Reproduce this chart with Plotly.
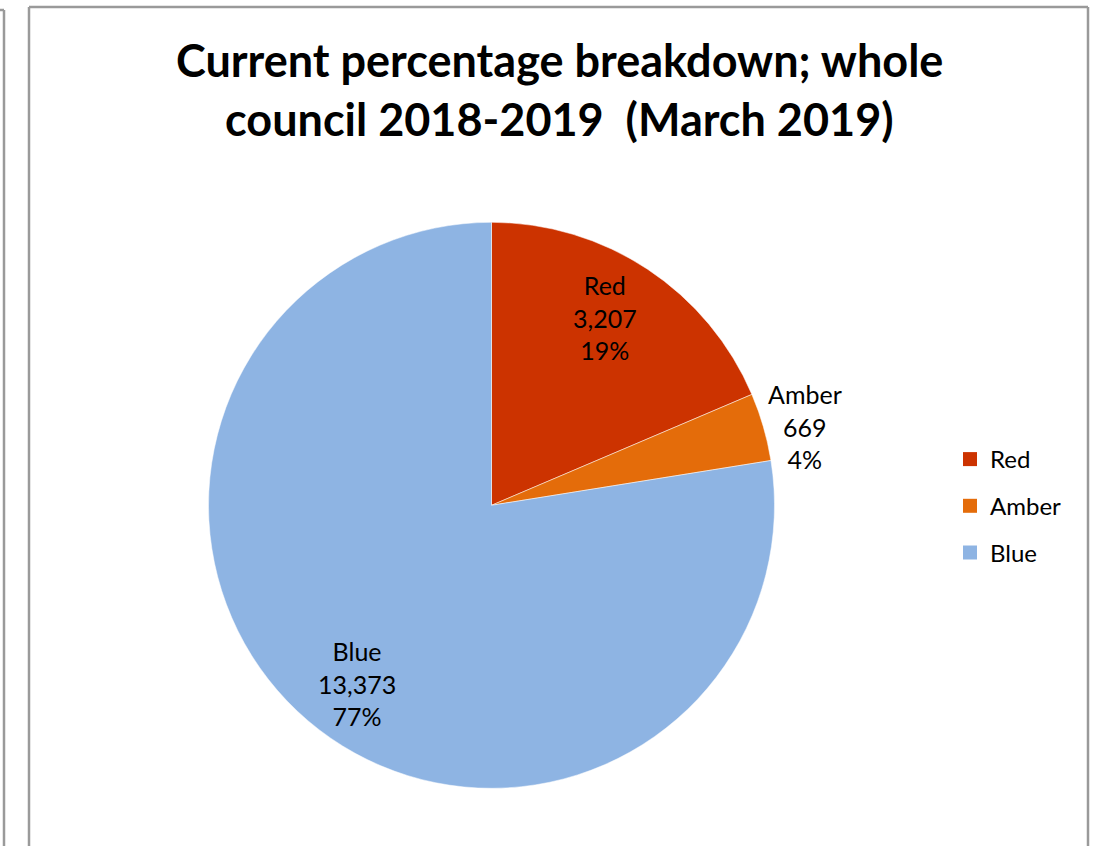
import math
import plotly.graph_objects as go

labels = ["Red", "Amber", "Blue"]
values = [3207, 669, 13373]
percent_text = ["19%", "4%", "77%"]
colors = ["#CC3300", "#E46C0A", "#8EB4E3"]

title_lines = ["Current percentage breakdown; whole", "council 2018-2019  (March 2019)"]

W, H = 1106, 846
FONT = "Lato"

# pie geometry (pixels)
cx, cy, R = 491.5, 505.3, 283.0
dom_x = [(cx - R) / W, (cx + R) / W]
dom_y = [1 - (cy + R) / H, 1 - (cy - R) / H]

fig = go.Figure()
fig.add_trace(go.Pie(
    labels=labels, values=values, sort=False, direction="clockwise", rotation=0,
    marker=dict(colors=colors, line=dict(color="white", width=0.5)),
    textinfo="none", showlegend=False, domain=dict(x=dom_x, y=dom_y),
))

# legend via dummy traces (for spacing control)
for lab, col in zip(labels, colors):
    fig.add_trace(go.Scatter(
        x=[None], y=[None], mode="markers", name=lab, legendgroup=lab,
        marker=dict(symbol="square", size=14, color=col),
    ))

# data labels placed from slice mid-angles
label_radius = [0.77, 1.14, 0.79]
label_shift = [(-7, 6), (4, -11), (11, -8)]
total = sum(values)
cum = 0
annotations = []
for lab, v, pct, rf, sh in zip(labels, values, percent_text, label_radius, label_shift):
    mid = (cum + v / 2) / total * 2 * math.pi
    cum += v
    px = cx + rf * R * math.sin(mid)
    py = cy - rf * R * math.cos(mid)
    annotations.append(dict(
        x=px / W, y=1 - py / H, xref="paper", yref="paper", showarrow=False,
        text=f"{lab}<br>{v:,}<br>{pct}", align="center",
        font=dict(family=FONT, size=25, color="#000000"),
        xanchor="center", yanchor="middle", xshift=sh[0], yshift=sh[1],
    ))

title_y = [60, 119]
for t, ty in zip(title_lines, title_y):
    annotations.append(dict(
        x=559 / W, y=1 - ty / H, xref="paper", yref="paper", showarrow=False,
        text=f"<b>{t}</b>", font=dict(family=FONT, size=45, color="#000000"),
        xanchor="center", yanchor="middle",
    ))

line_style = dict(color="#9A9A9A", width=2.5)
shapes = [
    dict(type="line", xref="paper", yref="paper", x0=29 / W, x1=29 / W, y0=1 - 7 / H, y1=0, line=line_style),
    dict(type="line", xref="paper", yref="paper", x0=29 / W, x1=1088 / W, y0=1 - 7 / H, y1=1 - 7 / H, line=line_style),
    dict(type="line", xref="paper", yref="paper", x0=1088 / W, x1=1088 / W, y0=1 - 7 / H, y1=0, line=line_style),
    dict(type="line", xref="paper", yref="paper", x0=4 / W, x1=4 / W, y0=1 - 10 / H, y1=0, line=line_style),
    dict(type="line", xref="paper", yref="paper", x0=0, x1=4 / W, y0=1 - 10 / H, y1=1 - 10 / H, line=line_style),
]

fig.update_layout(
    width=W, height=H, margin=dict(l=0, r=0, t=0, b=0),
    paper_bgcolor="white", plot_bgcolor="white",
    xaxis=dict(visible=False), yaxis=dict(visible=False),
    annotations=annotations, shapes=shapes,
    showlegend=True,
    legend=dict(x=950 / W, y=1 - 437 / H, xanchor="left", yanchor="top",
                font=dict(family=FONT, size=24, color="#000000"),
                tracegroupgap=12.5, bgcolor="rgba(0,0,0,0)"),
)

fig.write_html("out.html")
